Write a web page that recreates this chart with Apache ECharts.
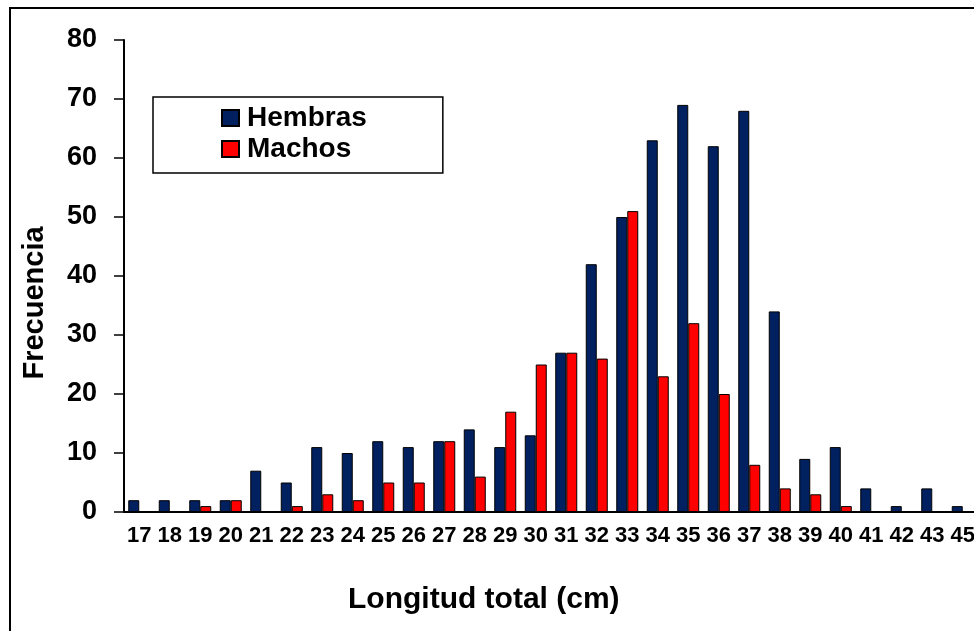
<!DOCTYPE html>
<html lang="es">
<head>
    <meta charset="utf-8">
    <title>Frecuencia de tallas</title>
    <script src="https://cdn.jsdelivr.net/npm/echarts@6/dist/echarts.min.js"></script>
    <style>
        html, body { margin: 0; padding: 0; overflow: hidden; background: #fff; }
    </style>
</head>
<body>
    <div id="main" style="width: 980px;height:631px;"></div>
    <script type="text/javascript">
        // longitud total (cm)
        var tallas = ['17', '18', '19', '20', '21', '22', '23', '24', '25', '26', '27', '28', '29', '30',
                      '31', '32', '33', '34', '35', '36', '37', '38', '39', '40', '41', '42', '43', '45'];
        var hembras = [2, 2, 2, 2, 7, 5, 11, 10, 12, 11, 12, 14, 11, 13,
                       27, 42, 50, 63, 69, 62, 68, 34, 9, 11, 4, 1, 4, 1];
        var machos = [0, 0, 1, 2, 0, 1, 3, 2, 5, 5, 12, 6, 17, 25,
                      27, 26, 51, 23, 32, 20, 8, 4, 3, 1, 0, 0, 0, 0];

        var fuente = 'Liberation Sans, Arial, sans-serif';

        var myChart = echarts.init(document.getElementById('main'));

        var option = {
            animation: false,
            backgroundColor: '#fff',
            title: {
                text: 'Longitud total (cm)',
                left: 348,
                top: 585,
                padding: 0,
                textStyle: { fontFamily: fuente, fontSize: 30, fontWeight: 'bold', color: '#000' }
            },
            graphic: [
                {
                    type: 'rect',
                    shape: { x: 10, y: 8, width: 1000, height: 700 },
                    style: { fill: 'none', stroke: '#000', lineWidth: 2 }
                },
                {
                    type: 'text',
                    x: 35,
                    y: 303,
                    rotation: Math.PI / 2,
                    style: {
                        text: 'Frecuencia',
                        fontFamily: fuente,
                        fontSize: 29,
                        fontWeight: 'bold',
                        fill: '#000',
                        textAlign: 'center',
                        textVerticalAlign: 'middle'
                    }
                }
            ],
            legend: {
                orient: 'vertical',
                left: 153,
                top: 97,
                padding: [6, 76, 9, 68],
                itemGap: 1,
                itemWidth: 17,
                itemHeight: 16,
                icon: 'rect',
                borderColor: '#000',
                borderWidth: 1.5,
                borderRadius: 0,
                backgroundColor: '#fff',
                textStyle: {
                    fontFamily: fuente, fontSize: 28, fontWeight: 'bold', color: '#000',
                    lineHeight: 30, padding: [0, 0, 0, 3]
                },
                data: ['Hembras', 'Machos']
            },
            grid: {
                left: 124,
                right: 2,
                top: 40,
                bottom: 119
            },
            xAxis: {
                type: 'category',
                data: tallas,
                axisLine: { lineStyle: { color: '#000', width: 2 } },
                axisTick: { length: 6, lineStyle: { color: '#000', width: 1.5 } },
                axisLabel: {
                    interval: 0,
                    margin: 13,
                    fontFamily: fuente,
                    fontSize: 22,
                    fontWeight: 'bold',
                    color: '#000'
                },
                splitLine: { show: false }
            },
            yAxis: {
                type: 'value',
                min: 0,
                max: 80,
                interval: 10,
                axisLine: { show: true, lineStyle: { color: '#000', width: 2 } },
                axisTick: { show: true, length: 10, lineStyle: { color: '#000', width: 1.5 } },
                axisLabel: {
                    margin: 27,
                    fontFamily: fuente,
                    fontSize: 27,
                    fontWeight: 'bold',
                    color: '#000'
                },
                splitLine: { show: false }
            },
            series: [
                {
                    name: 'Hembras',
                    type: 'bar',
                    data: hembras,
                    barWidth: 11,
                    barGap: '0%',
                    itemStyle: { color: '#00205F', borderColor: '#000', borderWidth: 1 }
                },
                {
                    name: 'Machos',
                    type: 'bar',
                    data: machos,
                    barWidth: 11,
                    itemStyle: { color: '#FF0000', borderColor: '#000', borderWidth: 1 }
                }
            ]
        };

        myChart.setOption(option);
    </script>
</body>
</html>
